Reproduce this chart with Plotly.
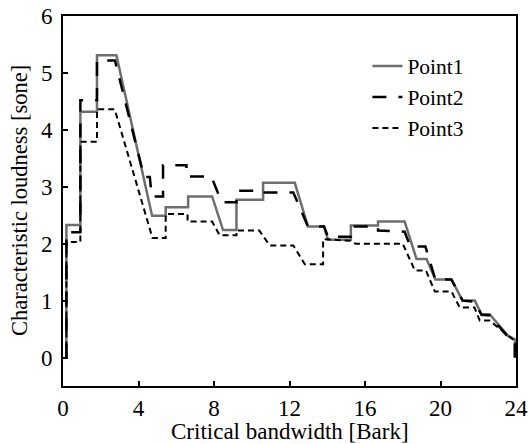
import plotly.graph_objects as go

# Specific loudness vs critical band rate, three measurement points
x1 = [0.18, 0.18, 0.92, 0.92, 1.80, 1.80, 2.83, 4.72, 5.44, 5.44, 6.63, 6.63, 7.90, 8.48, 9.19, 9.19,
      10.6, 10.6, 12.28, 12.98, 13.83, 14.04, 15.25, 15.25, 16.69, 16.69, 18.1, 18.73, 19.26, 19.73,
      20.58, 21.17, 21.82, 22.17, 22.6, 23.58, 23.94, 23.94]
y1 = [0, 2.33, 2.33, 4.32, 4.32, 5.31, 5.31, 2.49, 2.49, 2.64, 2.64, 2.83, 2.83, 2.24, 2.24, 2.77,
      2.77, 3.07, 3.07, 2.30, 2.30, 2.07, 2.07, 2.32, 2.32, 2.39, 2.39, 1.73, 1.73, 1.37,
      1.37, 1.0, 1.0, 0.76, 0.76, 0.38, 0.32, 0]

x2 = [0.18, 0.18, 0.92, 0.92, 1.80, 1.80, 2.75, 4.30, 4.60, 4.70, 5.30, 5.30, 6.54, 6.54, 7.86, 8.40,
      9.19, 9.19, 10.6, 10.6, 12.2, 12.98, 13.83, 14.04, 15.25, 15.25, 16.69, 16.69, 18.1, 18.4,
      19.2, 19.73, 20.58, 21.17, 21.82, 22.17, 22.6, 23.58, 23.94, 23.94]
y2 = [0, 2.2, 2.2, 4.52, 4.52, 5.22, 5.22, 3.17, 3.17, 2.83, 2.83, 3.38, 3.38, 3.18, 3.18, 2.73,
      2.73, 2.93, 2.93, 2.90, 2.90, 2.30, 2.30, 2.12, 2.12, 2.30, 2.30, 2.23, 2.21, 1.95,
      1.95, 1.37, 1.37, 1.0, 0.98, 0.75, 0.74, 0.36, 0.28, 0]

x3 = [0.18, 0.18, 0.92, 0.92, 1.80, 1.80, 2.74, 4.74, 5.44, 5.44, 6.6, 6.6, 7.9, 8.3, 9.19, 9.19,
      10.4, 10.95, 12.2, 12.81, 13.78, 13.78, 15.25, 15.5, 18.0, 18.64, 19.23, 19.7, 20.58, 21.02,
      21.8, 22.08, 22.6, 23.9, 23.97, 23.97]
y3 = [0, 2.03, 2.03, 3.79, 3.79, 4.36, 4.36, 2.10, 2.10, 2.52, 2.52, 2.39, 2.39, 2.15, 2.15, 2.23,
      2.23, 1.97, 1.97, 1.64, 1.64, 2.08, 2.05, 2.0, 2.0, 1.53, 1.53, 1.16, 1.16, 0.88,
      0.88, 0.65, 0.65, 0.30, 0.25, 0]

x_title = "Critical bandwidth [Bark]"
y_title = "Characteristic loudness [sone]"

font = "Liberation Serif, Times New Roman, serif"

fig = go.Figure()
fig.add_trace(go.Scatter(x=x1, y=y1, mode="lines", name="Point1",
                         line=dict(color="#6e6e6e", width=2.5)))
fig.add_trace(go.Scatter(x=x2, y=y2, mode="lines", name="Point2",
                         line=dict(color="black", width=2.5, dash="14px,12px")))
fig.add_trace(go.Scatter(x=x3, y=y3, mode="lines", name="Point3",
                         line=dict(color="black", width=2, dash="6px,4px")))

axis_common = dict(showline=True, linecolor="black", linewidth=2, mirror=True,
                   ticks="inside", ticklen=5, tickwidth=1.5, tickcolor="black",
                   showgrid=False, zeroline=False, automargin=False,
                   ticklabeloverflow="allow",
                   tickfont=dict(family=font, size=23, color="black"))

fig.update_xaxes(range=[0, 24], dtick=4, tick0=0, ticklabelstandoff=0, **axis_common)
fig.update_yaxes(range=[-0.5, 6], dtick=1, tick0=0, ticklabelstandoff=4, **axis_common)

# axis titles as annotations so they sit exactly where the original has them
fig.add_annotation(text=x_title, xref="paper", yref="paper", x=0.5, y=0,
                   xanchor="center", yanchor="middle", yshift=-45, showarrow=False,
                   font=dict(family=font, size=23, color="black"))
fig.add_annotation(text=y_title, xref="paper", yref="paper", x=0, y=0.5, textangle=-90,
                   xanchor="center", yanchor="middle", xshift=-44, showarrow=False,
                   font=dict(family=font, size=22.5, color="black"))

fig.update_layout(
    width=528, height=444,
    margin=dict(l=63, r=12, t=16, b=58),
    plot_bgcolor="white", paper_bgcolor="white",
    font=dict(family=font, color="black"),
    legend=dict(x=0.672, y=0.92, xanchor="left", yanchor="top", bgcolor="rgba(0,0,0,0)",
                font=dict(family=font, size=21.5, color="black"),
                tracegroupgap=0, itemwidth=30),
)

# drop the default 8px body margin so the figure fills the window
fig.write_html("out.html", config={"displayModeBar": False},
               post_script="document.body.style.margin='0';")
